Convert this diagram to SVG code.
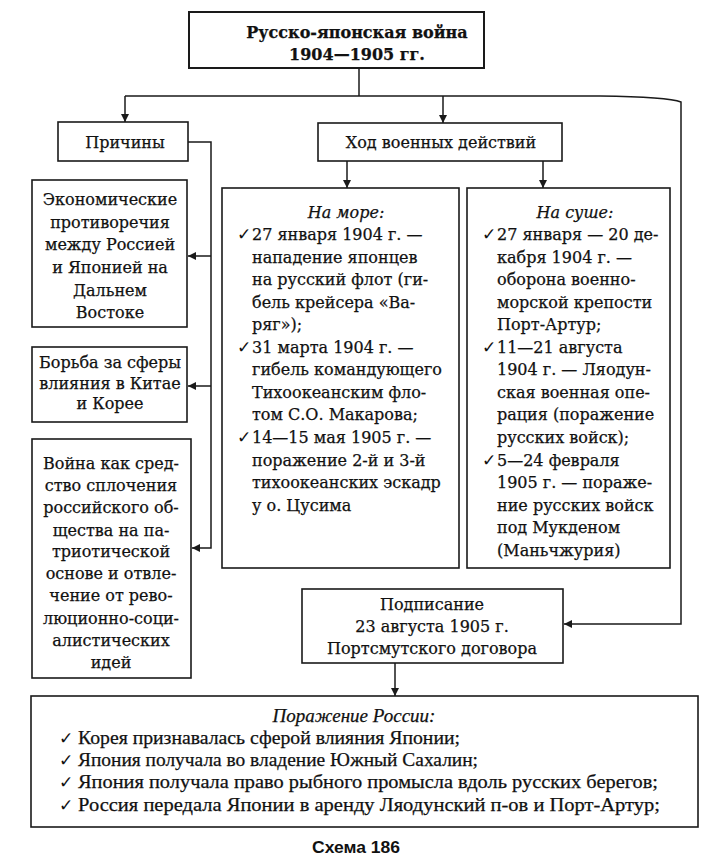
<svg xmlns="http://www.w3.org/2000/svg" width="707" height="866" viewBox="0 0 707 866">
<style>
.box{fill:#fff;stroke:#1a1a1a;stroke-width:1.6}
.t{font-family:"DejaVu Serif","Liberation Serif",serif;font-size:16px;fill:#111;stroke:#111;stroke-width:0.25}
.c{text-anchor:middle}
.b{font-weight:bold}
.i{font-style:italic}
.ck{font-family:"DejaVu Sans",sans-serif;font-size:17px;font-weight:bold;fill:#111}
.bt{font-family:"Liberation Serif","DejaVu Serif",serif;font-size:19px;fill:#111;stroke:#111;stroke-width:0.25}
.ln{fill:none;stroke:#1a1a1a;stroke-width:1.5}
</style>
<defs>
<marker id="ah" viewBox="0 0 10 10" refX="10" refY="5" markerWidth="9" markerHeight="8" markerUnits="userSpaceOnUse" orient="auto">
<path d="M0,0 L10,5 L0,10 Z" fill="#1a1a1a"/>
</marker>
</defs>
<rect width="707" height="866" fill="#fff"/>

<g id="connectors">
<path class="ln" d="M359,68 V96"/>
<path class="ln" d="M125,96 H600 Q668,97 681,102 V624 H564" marker-end="url(#ah)"/>
<path class="ln" d="M125,96 V122" marker-end="url(#ah)"/>
<path class="ln" d="M443,96 V123" marker-end="url(#ah)"/>
<path class="ln" d="M347,161 V188" marker-end="url(#ah)"/>
<path class="ln" d="M543,161 V188" marker-end="url(#ah)"/>
<path class="ln" d="M188,142 H211 V548 H192" marker-end="url(#ah)"/>
<path class="ln" d="M211,256 H188" marker-end="url(#ah)"/>
<path class="ln" d="M211,386 H188" marker-end="url(#ah)"/>
<path class="ln" d="M395,663 V696" marker-end="url(#ah)"/>
</g>

<g id="title">
<rect class="box" x="189" y="12" width="295" height="56" style="stroke-width:2"/>
<text class="t b c" x="357" y="38">Русско-японская война</text>
<text class="t b c" x="357" y="60">1904—1905 гг.</text>
</g>

<g id="prichiny">
<rect class="box" x="58" y="122" width="130" height="39"/>
<text class="t c" x="125" y="148">Причины</text>
</g>

<g id="hod">
<rect class="box" x="318" y="123" width="244" height="38"/>
<text class="t c" x="441" y="148">Ход военных действий</text>
</g>

<g id="econ">
<rect class="box" x="32" y="180" width="155" height="147"/>
<text class="t c" x="110" y="205">Экономические</text>
<text class="t c" x="110" y="228">противоречия</text>
<text class="t c" x="110" y="250">между Россией</text>
<text class="t c" x="110" y="273">и Японией на</text>
<text class="t c" x="110" y="296">Дальнем</text>
<text class="t c" x="110" y="318">Востоке</text>
</g>

<g id="borba">
<rect class="box" x="32" y="347" width="155" height="75"/>
<text class="t c" x="110" y="368">Борьба за сферы</text>
<text class="t c" x="110" y="389">влияния в Китае</text>
<text class="t c" x="110" y="409">и Корее</text>
</g>

<g id="voina">
<rect class="box" x="32" y="439" width="159" height="239"/>
<text class="t c" x="111" y="469">Война как сред-</text>
<text class="t c" x="111" y="491">ство сплочения</text>
<text class="t c" x="111" y="513">российского об-</text>
<text class="t c" x="111" y="536">щества на па-</text>
<text class="t c" x="111" y="557">триотической</text>
<text class="t c" x="111" y="579">основе и отвле-</text>
<text class="t c" x="111" y="601">чение от рево-</text>
<text class="t c" x="111" y="624">люционно-соци-</text>
<text class="t c" x="111" y="646">алистических</text>
<text class="t c" x="111" y="668">идей</text>
</g>

<g id="more">
<rect class="box" x="222" y="188" width="237" height="380"/>
<text class="t i c" x="346" y="218">На море:</text>
<text class="ck" x="237" y="240">✓</text>
<text class="t" x="252" y="240">27 января 1904 г. —</text>
<text class="t" x="252" y="263">нападение японцев</text>
<text class="t" x="252" y="285">на русский флот (ги-</text>
<text class="t" x="252" y="308">бель крейсера «Ва-</text>
<text class="t" x="252" y="330">ряг»);</text>
<text class="ck" x="237" y="353">✓</text>
<text class="t" x="252" y="353">31 марта 1904 г. —</text>
<text class="t" x="252" y="375">гибель командующего</text>
<text class="t" x="252" y="398">Тихоокеанским фло-</text>
<text class="t" x="252" y="420">том С.О. Макарова;</text>
<text class="ck" x="237" y="443">✓</text>
<text class="t" x="252" y="443">14—15 мая 1905 г. —</text>
<text class="t" x="252" y="466">поражение 2-й и 3-й</text>
<text class="t" x="252" y="488">тихоокеанских эскадр</text>
<text class="t" x="252" y="511">у о. Цусима</text>
</g>

<g id="sushe">
<rect class="box" x="467" y="188" width="203" height="380"/>
<text class="t i c" x="575" y="218">На суше:</text>
<text class="ck" x="482" y="240">✓</text>
<text class="t" x="497" y="240">27 января — 20 де-</text>
<text class="t" x="497" y="263">кабря 1904 г. —</text>
<text class="t" x="497" y="285">оборона военно-</text>
<text class="t" x="497" y="308">морской крепости</text>
<text class="t" x="497" y="330">Порт-Артур;</text>
<text class="ck" x="482" y="353">✓</text>
<text class="t" x="497" y="353">11—21 августа</text>
<text class="t" x="497" y="375">1904 г. — Ляодун-</text>
<text class="t" x="497" y="398">ская военная опе-</text>
<text class="t" x="497" y="420">рация (поражение</text>
<text class="t" x="497" y="443">русских войск);</text>
<text class="ck" x="482" y="466">✓</text>
<text class="t" x="497" y="466">5—24 февраля</text>
<text class="t" x="497" y="488">1905 г. — пораже-</text>
<text class="t" x="497" y="511">ние русских войск</text>
<text class="t" x="497" y="533">под Мукденом</text>
<text class="t" x="497" y="556">(Маньчжурия)</text>
</g>

<g id="podpisanie">
<rect class="box" x="302" y="589" width="261" height="74"/>
<text class="t c" x="432" y="610">Подписание</text>
<text class="t c" x="432" y="632">23 августа 1905 г.</text>
<text class="t c" x="432" y="654">Портсмутского договора</text>
</g>

<g id="porazhenie">
<rect class="box" x="31" y="696" width="667" height="131"/>
<text class="bt i c" x="354" y="722">Поражение России:</text>
<text class="ck" x="59" y="744">✓</text>
<text class="bt" x="78" y="744" textLength="382" lengthAdjust="spacingAndGlyphs">Корея признавалась сферой влияния Японии;</text>
<text class="ck" x="59" y="766">✓</text>
<text class="bt" x="78" y="766" textLength="400" lengthAdjust="spacingAndGlyphs">Япония получала во владение Южный Сахалин;</text>
<text class="ck" x="59" y="788">✓</text>
<text class="bt" x="78" y="788" textLength="580" lengthAdjust="spacingAndGlyphs">Япония получала право рыбного промысла вдоль русских берегов;</text>
<text class="ck" x="59" y="811">✓</text>
<text class="bt" x="78" y="811" textLength="582" lengthAdjust="spacingAndGlyphs">Россия передала Японии в аренду Ляодунский п-ов и Порт-Артур;</text>
</g>

<g id="caption">
<text x="356" y="853" text-anchor="middle" font-family="Liberation Sans, sans-serif" font-weight="bold" font-size="17" fill="#111" textLength="88" lengthAdjust="spacingAndGlyphs">Схема 186</text>
</g>
</svg>
